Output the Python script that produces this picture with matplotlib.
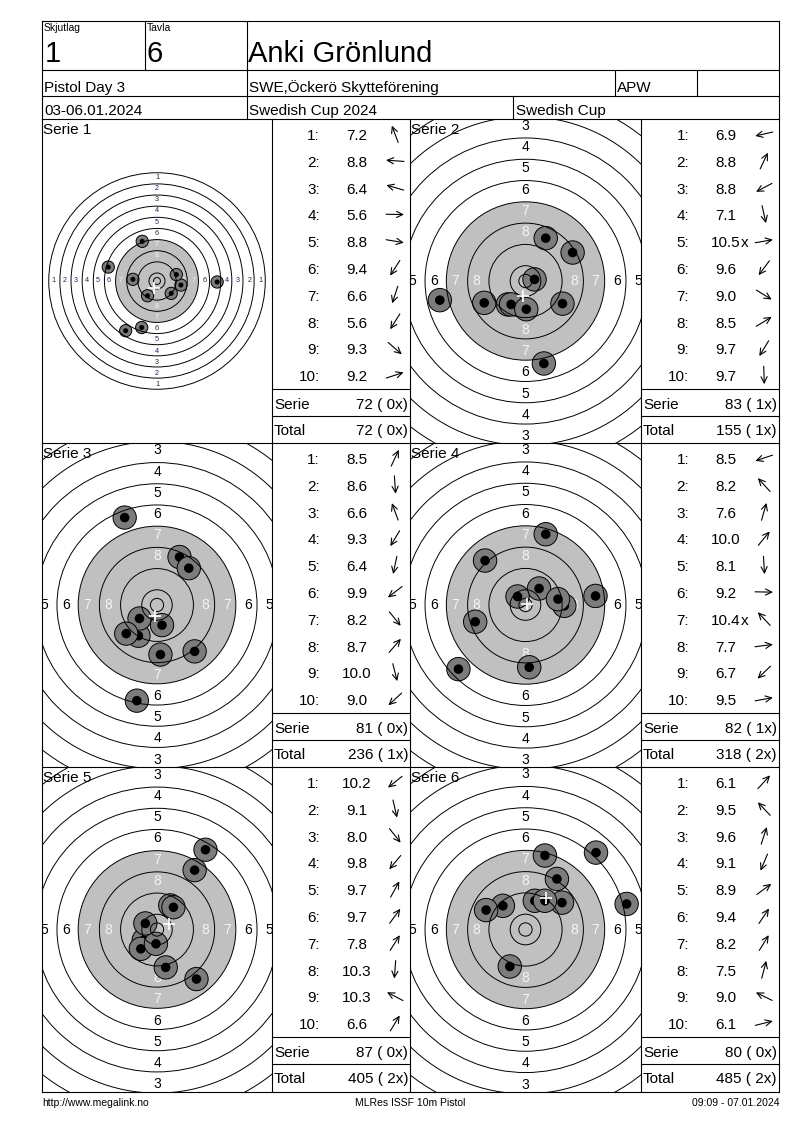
import numpy as np
import matplotlib
matplotlib.use("Agg")
import matplotlib.pyplot as plt
from matplotlib.patches import Circle

plt.rcParams['font.family'] = ['Liberation Sans', 'DejaVu Sans']

# ---------------- header / footer texts ----------------
relay_label = "Skjutlag"
relay = "1"
target_label = "Tavla"
target_no = "6"
shooter = "Anki Grönlund"
event = "Pistol Day 3"
club = "SWE,Öckerö Skytteförening"
shooter_class = "APW"
dates = "03-06.01.2024"
competition = "Swedish Cup 2024"
cup = "Swedish Cup"
footer_left = "http://www.megalink.no"
footer_mid = "MLRes ISSF 10m Pistol"
footer_right = "09:09 - 07.01.2024"

# ---------------- series data ----------------
series_labels = ["Serie 1", "Serie 2", "Serie 3", "Serie 4", "Serie 5", "Serie 6"]

scores_1 = [7.2, 8.8, 6.4, 5.6, 8.8, 9.4, 6.6, 5.6, 9.3, 9.2]
shot_x_1 = [-10.6, -17.3, -35.0, 43.2, 17.2, -6.8, -11.0, -22.5, 10.2, 13.9]
shot_y_1 = [28.5, 1.2, 10.0, -0.7, -2.9, -10.6, -33.4, -35.7, -8.9, 4.6]

scores_2 = [6.9, 8.8, 8.8, 7.1, 10.5, 9.6, 9.0, 8.5, 9.7, 9.7]
shot_x_2 = [-32.2, 7.6, -15.5, 6.9, 3.4, -6.6, 13.9, 17.7, -5.4, 0.3]
shot_y_2 = [-7.2, 16.1, -8.2, -31.0, 0.6, -8.8, -8.5, 10.7, -8.8, -10.6]

scores_3 = [8.5, 8.6, 6.6, 9.3, 6.4, 9.9, 8.2, 8.7, 10.0, 9.0]
shot_x_3 = [8.5, 1.3, -12.2, -7.0, -7.6, -6.6, 14.2, 12.0, 1.9, -11.6]
shot_y_3 = [18.1, -18.7, 33.0, -11.6, -36.1, -5.1, -17.5, 13.9, -7.6, -10.8]

scores_4 = [8.5, 8.2, 7.6, 10.0, 8.1, 9.2, 10.4, 7.7, 6.7, 9.5]
shot_x_4 = [-18.9, -15.2, 7.6, 5.1, 1.4, 14.6, -3.0, 26.3, -25.2, 12.2]
shot_y_4 = [-6.3, 16.7, 26.6, 6.2, -23.4, -0.3, 3.2, 3.4, -24.1, 2.2]

scores_5 = [10.2, 9.1, 8.0, 9.8, 9.7, 9.7, 7.8, 10.3, 10.3, 6.6]
shot_x_5 = [-5.0, 3.3, 14.9, -6.1, 5.0, 6.2, 14.2, -0.4, -4.4, 18.3]
shot_y_5 = [-4.0, -14.3, -18.7, -7.3, 9.1, 8.4, 22.4, -5.4, 2.3, 30.1]

scores_6 = [6.1, 9.5, 9.6, 9.1, 8.9, 9.4, 8.2, 7.5, 9.0, 6.1]
shot_x_6 = [26.5, -8.5, 3.5, -5.9, 13.7, 7.3, 11.8, 7.3, -14.8, 38.0]
shot_y_6 = [28.9, 8.9, 10.8, -13.9, 10.1, 10.8, 19.0, 27.8, 7.3, 9.6]

# shot numbers (1-based) that are inner tens, per series
inner_tens = [[], [5], [], [7], [], []]

# visible half width of each target view, mm
view_halfwidth_mm = [82.6, 43.4, 43.4, 43.4, 43.4, 43.4]

all_scores = [scores_1, scores_2, scores_3, scores_4, scores_5, scores_6]
all_x = [shot_x_1, shot_x_2, shot_x_3, shot_x_4, shot_x_5, shot_x_6]
all_y = [shot_y_1, shot_y_2, shot_y_3, shot_y_4, shot_y_5, shot_y_6]

# ISSF 10 m pistol target geometry (mm)
ring_radius = [5.75 + 8.0 * (10 - k) for k in range(1, 11)]  # rings 1..10
inner_ten_radius = 2.5
black_radius = ring_radius[6]  # ring 7
shot_outer_r = 4.4
shot_inner_r = 1.8

# ---------------- figure ----------------
W, H = 800, 1130
fig = plt.figure(figsize=(8, 11.3), dpi=100)
fig.patch.set_facecolor('white')


def fig_rect(x0, y0, x1, y1):
    return [x0 / W, 1 - y1 / H, (x1 - x0) / W, (y1 - y0) / H]


cax = fig.add_axes([0, 0, 1, 1], zorder=10)
cax.set_xlim(0, W)
cax.set_ylim(H, 0)
cax.axis('off')
cax.patch.set_alpha(0)

LW = 0.8


def line(x0, y0, x1, y1):
    cax.plot([x0, x1], [y0, y1], color='black', lw=LW, solid_capstyle='projecting')


LEFT, RIGHT, TOP, BOTTOM = 42, 779, 21, 1092
# outer frame
line(LEFT, TOP, RIGHT, TOP)
line(LEFT, BOTTOM, RIGHT, BOTTOM)
line(LEFT, TOP, LEFT, BOTTOM)
line(RIGHT, TOP, RIGHT, BOTTOM)
# header grid
line(LEFT, 70, RIGHT, 70)
line(LEFT, 96, RIGHT, 96)
line(LEFT, 119, RIGHT, 119)
line(145, TOP, 145, 70)
line(247, TOP, 247, 119)
line(615, 70, 615, 96)
line(697, 70, 697, 96)
line(513, 96, 513, 119)

# header texts
cax.text(44, 31, relay_label, fontsize=7.5, ha='left', va='baseline')
cax.text(147, 31, target_label, fontsize=7.5, ha='left', va='baseline')
cax.text(45, 62, relay, fontsize=21, ha='left', va='baseline')
cax.text(147, 62, target_no, fontsize=21, ha='left', va='baseline')
cax.text(248, 62, shooter, fontsize=21, ha='left', va='baseline')
cax.text(44, 92, event, fontsize=11, ha='left', va='baseline')
cax.text(249, 92, club, fontsize=11, ha='left', va='baseline')
cax.text(617, 92, shooter_class, fontsize=11, ha='left', va='baseline')
cax.text(44, 115, dates, fontsize=11, ha='left', va='baseline')
cax.text(249, 115, competition, fontsize=11, ha='left', va='baseline')
cax.text(516, 115, cup, fontsize=11, ha='left', va='baseline')

# footer
cax.text(42, 1106, footer_left, fontsize=7.5, ha='left', va='baseline')
cax.text(410, 1106, footer_mid, fontsize=7.5, ha='center', va='baseline')
cax.text(779, 1106, footer_right, fontsize=7.5, ha='right', va='baseline')

# panel grid
row_tops = [119, 443, 767]
col_bounds = [(42, 272), (410, 641)]  # (target left, list left)
LIST_W = 138
line(LEFT, 443, RIGHT, 443)
line(LEFT, 767, RIGHT, 767)
for xv in (272, 410, 641):
    line(xv, 119, xv, BOTTOM)

total = 0
total_x = 0
for i in range(6):
    r, c = divmod(i, 2)
    T = row_tops[r]
    B = T + 324 if r < 2 else BOTTOM
    tx0, L = col_bounds[c]
    scores = all_scores[i]
    xs = np.array(all_x[i])
    ys = np.array(all_y[i])

    # ----- target -----
    ax = fig.add_axes(fig_rect(tx0, T, L, B))
    hw = view_halfwidth_mm[i]
    hh = hw * (B - T) / (L - tx0)
    ax.set_xlim(-hw, hw)
    ax.set_ylim(-hh, hh)
    ax.axis('off')

    ax.add_patch(Circle((0, 0), black_radius, fc='#c0c0c0', ec='none', zorder=1))
    lab_fs = 10 * 43.4 / hw
    margin = 2.0 * hw / 43.4
    for k in range(1, 9):
        rm = ring_radius[k - 1] - 3.4
        col = '#f4f4f4' if k >= 7 else ('black' if hw < 60 else '#1c2850')
        pos = []
        if rm < hh + margin:
            pos += [(0, rm), (0, -rm)]
        if rm < hw + margin:
            pos += [(rm, 0), (-rm, 0)]
        for (px, py) in pos:
            ax.text(px, py, str(k), fontsize=lab_fs, color=col, ha='center',
                    va='center', zorder=2, clip_on=True)
    for (sx, sy) in zip(xs, ys):
        ax.add_patch(Circle((sx, sy), shot_outer_r, fc='#7c7c7c', ec='black', lw=0.7, zorder=3))
        ax.add_patch(Circle((sx, sy), shot_inner_r, fc='black', ec='none', zorder=3))
    for rr in ring_radius + [inner_ten_radius]:
        ax.add_patch(Circle((0, 0), rr, fill=False, ec='black', lw=0.7, zorder=5))
    ax.plot([xs.mean()], [ys.mean()], marker='+', color='white', ms=9, mew=1.2, zorder=6)

    cax.text(tx0 + 1, T + 14.5, series_labels[i], fontsize=11, ha='left', va='baseline')

    # ----- list -----
    line(L, T + 270, L + LIST_W, T + 270)
    line(L, T + 297, L + LIST_W, T + 297)
    for j, s in enumerate(scores):
        by = T + 21 + 26.8 * j
        cax.text(L + 48, by, f"{j + 1}:", fontsize=11, ha='right', va='baseline')
        t = cax.text(L + 85, by, f"{s:.1f}", fontsize=11, ha='center', va='baseline')
        if (j + 1) in inner_tens[i]:
            cax.annotate('x', xy=(1, 0), xycoords=t, fontsize=11, ha='left', va='bottom')
        th = np.arctan2(ys[j], xs[j])
        cx, cy = L + 123, by - 6
        dx, dy = 9 * np.cos(th), -9 * np.sin(th)
        cax.annotate('', xy=(cx + dx, cy + dy), xytext=(cx - dx, cy - dy),
                     arrowprops=dict(arrowstyle='->,head_length=0.45,head_width=0.22',
                                     lw=0.8, color='black', shrinkA=0, shrinkB=0))
    serie_sum = int(sum(int(np.floor(s + 1e-9)) for s in scores))
    n_x = len(inner_tens[i])
    total += serie_sum
    total_x += n_x
    cax.text(L + 2, T + 290, "Serie", fontsize=11, ha='left', va='baseline')
    cax.text(L + 136, T + 290, f"{serie_sum} ({n_x:2d}x)", fontsize=11, ha='right', va='baseline')
    cax.text(L + 2, T + 316, "Total", fontsize=11, ha='left', va='baseline')
    cax.text(L + 136, T + 316, f"{total} ({total_x:2d}x)", fontsize=11, ha='right', va='baseline')

fig.savefig("out.png", dpi=100)
